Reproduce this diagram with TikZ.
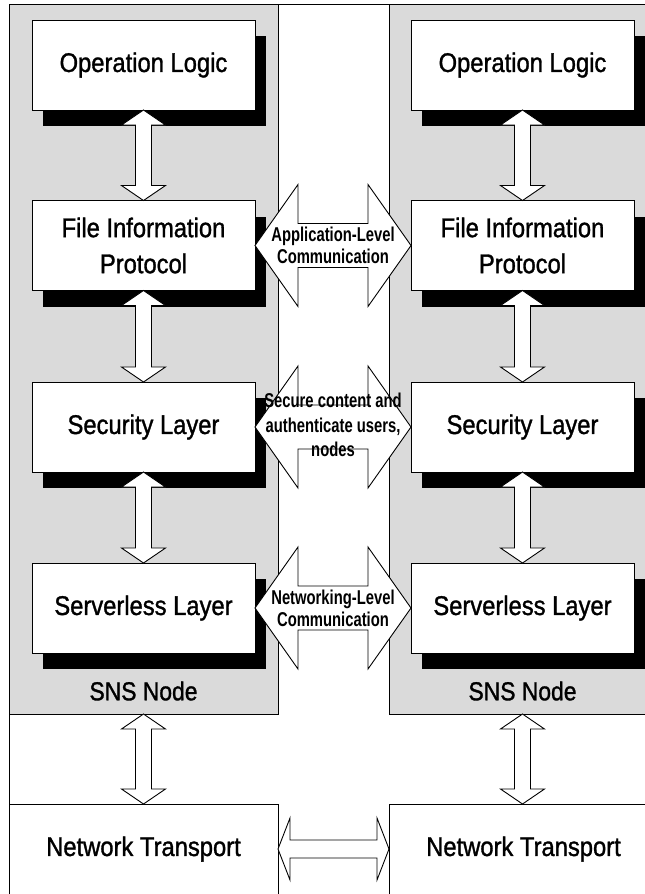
\documentclass[tikz,border=0pt]{standalone}
\usepackage{fontspec}
\setmainfont{Liberation Sans}
\newfontfamily\boxfont{Liberation Sans}[FakeStretch=0.88, FakeBold=1.2]
\newfontfamily\midfont{Liberation Sans}[FakeStretch=0.74]
\usetikzlibrary{calc,shadows}
\definecolor{panelgray}{RGB}{218,218,218}
\tikzset{
  panel/.style={draw, fill=panelgray, line width=1pt, minimum width=269pt, minimum height=710pt, inner sep=0pt, outer sep=0pt},
  layerbox/.style={draw, fill=white, line width=1pt, minimum width=223pt, minimum height=90pt, inner sep=0pt, outer sep=0pt, align=center,
    font=\boxfont\fontsize{27}{36}\selectfont,
    drop shadow={shadow xshift=11pt, shadow yshift=-16pt, fill=black, opacity=1}},
  ntbox/.style={draw, fill=white, line width=1pt, minimum width=269pt, minimum height=90pt, inner sep=0pt, outer sep=0pt,
    font=\boxfont\fontsize{27}{36}\selectfont},
  snslabel/.style={inner sep=0pt, font=\boxfont\fontsize{26}{30}\selectfont},
  midlabel/.style={inner sep=0pt, align=center, font=\midfont\bfseries\fontsize{20}{22}\selectfont},
  blockarrow/.style={draw, fill=white, line width=0.9pt, line join=miter}
}
\newcommand\vblock[2]{\path[blockarrow] let \p1=(#1), \p2=(#2) in
  (\x1,\y1) -- (\x1+22pt,\y1-15pt) -- (\x1+8pt,\y1-15pt) -- (\x1+8pt,\y2+15pt) -- (\x1+22pt,\y2+15pt) -- (\x1,\y2)
  -- (\x1-22pt,\y2+15pt) -- (\x1-8pt,\y2+15pt) -- (\x1-8pt,\y1-15pt) -- (\x1-22pt,\y1-15pt) -- cycle;}
\newcommand\hblock[5]{\path[blockarrow] let \p1=(#1), \p2=(#2) in
  (\x1,\y1) -- (\x1+#3,\y1+#4) -- (\x1+#3,\y1+#5) -- (\x2-#3,\y1+#5) -- (\x2-#3,\y1+#4) -- (\x2,\y1)
  -- (\x2-#3,\y1-#4) -- (\x2-#3,\y1-#5) -- (\x1+#3,\y1-#5) -- (\x1+#3,\y1-#4) -- cycle;}
\begin{document}
\begin{tikzpicture}[x=1pt,y=-1pt]
\clip (0,0) rectangle (645,894);
\fill[white] (0,0) rectangle (645,894);
% outer frame
\draw[line width=1pt, fill=white] (9,4) rectangle (700,900);
% panels
\node[panel] (LP) at (143.5,359) {};
\node[panel] (RP) at (523.5,359) {};
% layer boxes
\node[layerbox] (L1) at (143.5,65) {Operation Logic};
\node[layerbox] (L2) at (143.5,245.5) {File Information\\Protocol};
\node[layerbox] (L3) at (143.5,427) {Security Layer};
\node[layerbox] (L4) at (143.5,608) {Serverless Layer};
\node[layerbox] (R1) at (522.5,65) {Operation Logic};
\node[layerbox] (R2) at (522.5,245.5) {File Information\\Protocol};
\node[layerbox] (R3) at (522.5,427) {Security Layer};
\node[layerbox] (R4) at (522.5,608) {Serverless Layer};
% SNS labels
\node[snslabel] (LS) at (143.5,691) {SNS Node};
\node[snslabel] (RS) at (522.5,691) {SNS Node};
% network transport
\node[ntbox] (LN) at (143.5,849) {Network Transport};
\node[ntbox] (RN) at (523.5,849) {Network Transport};
% vertical arrows
\vblock{L1.south}{L2.north}
\vblock{L2.south}{L3.north}
\vblock{L3.south}{L4.north}
\vblock{R1.south}{R2.north}
\vblock{R2.south}{R3.north}
\vblock{R3.south}{R4.north}
\vblock{LP.south}{LN.north}
\vblock{RP.south -| R1.south}{RN.north -| R1.south}
% horizontal arrows
\hblock{L2.east}{R2.west}{43pt}{61pt}{22pt}
\hblock{L3.east}{R3.west}{43pt}{61pt}{22pt}
\hblock{L4.east}{R4.west}{43pt}{61pt}{22pt}
\hblock{LN.east}{RN.west}{12pt}{31pt}{9pt}
% arrow labels
\node[midlabel] (A1) at ($(L2.east)!0.5!(R2.west)$) {Application-Level\\Communication};
\node[midlabel, font=\midfont\bfseries\fontsize{20}{24.5}\selectfont] (A2) at ($(L3.east)!0.5!(R3.west)+(0,-2)$) {Secure content and\\authenticate users,\\nodes};
\node[midlabel] (A3) at ($(L4.east)!0.5!(R4.west)$) {Networking-Level\\Communication};
\end{tikzpicture}
\end{document}
